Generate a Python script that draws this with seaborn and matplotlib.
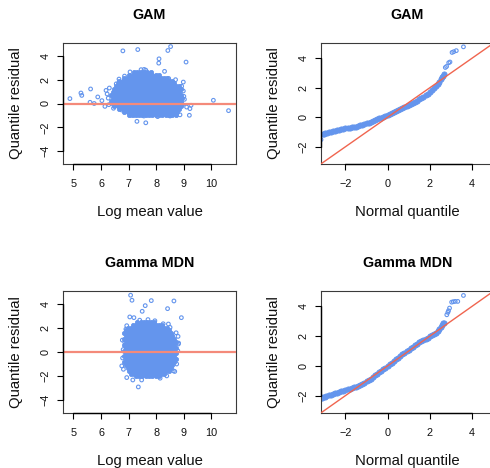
import matplotlib
matplotlib.use("Agg")
import matplotlib.pyplot as plt
import seaborn as sns
import pandas as pd

# ---------------------------------------------------------------------------
# Residual diagnostics: GAM vs Gamma MDN
# ---------------------------------------------------------------------------

panel_titles = ["GAM", "GAM", "Gamma MDN", "Gamma MDN"]
scatter_xlabel = "Log mean value"
qq_xlabel = "Normal quantile"
ylabel = "Quantile residual"

scatter_xticks = [5, 6, 7, 8, 9, 10]
scatter_yticks = [-4, -2, 0, 2, 4]
qq_xticks = [-2, 0, 2, 4]
qq_yticks = [-2, 0, 2, 4]

# GAM: residual vs log mean, dense core given row by row (residual, log means)
gam_core_rows = [
    (2.62, [7.20, 7.32, 7.44, 7.56, 7.68, 7.80]),
    (2.40, [7.02, 7.14, 7.26, 7.38, 7.50, 7.62, 7.74, 7.86, 7.98, 8.10]),
    (2.16, [6.84, 6.96, 7.08, 7.20, 7.32, 7.44, 7.56, 7.68, 7.80, 7.92, 8.04, 8.16, 8.28, 8.40]),
    (1.92, [6.66, 6.78, 6.90, 7.02, 7.14, 7.26, 7.38, 7.50, 7.62, 7.74, 7.86, 7.98, 8.10, 8.22,
            8.34, 8.46, 8.58]),
    (1.68, [6.60, 6.72, 6.84, 6.96, 7.08, 7.20, 7.32, 7.44, 7.56, 7.68, 7.80, 7.92, 8.04, 8.16,
            8.28, 8.40, 8.52, 8.64]),
    (1.44, [6.54, 6.66, 6.78, 6.90, 7.02, 7.14, 7.26, 7.38, 7.50, 7.62, 7.74, 7.86, 7.98, 8.10,
            8.22, 8.34, 8.46, 8.58, 8.70, 8.82]),
    (1.20, [6.48, 6.60, 6.72, 6.84, 6.96, 7.08, 7.20, 7.32, 7.44, 7.56, 7.68, 7.80, 7.92, 8.04,
            8.16, 8.28, 8.40, 8.52, 8.64, 8.76, 8.88]),
    (0.96, [6.42, 6.54, 6.66, 6.78, 6.90, 7.02, 7.14, 7.26, 7.38, 7.50, 7.62, 7.74, 7.86, 7.98,
            8.10, 8.22, 8.34, 8.46, 8.58, 8.70, 8.82]),
    (0.72, [6.36, 6.48, 6.60, 6.72, 6.84, 6.96, 7.08, 7.20, 7.32, 7.44, 7.56, 7.68, 7.80, 7.92,
            8.04, 8.16, 8.28, 8.40, 8.52, 8.64, 8.76, 8.88]),
    (0.48, [6.42, 6.54, 6.66, 6.78, 6.90, 7.02, 7.14, 7.26, 7.38, 7.50, 7.62, 7.74, 7.86, 7.98,
            8.10, 8.22, 8.34, 8.46, 8.58, 8.70, 8.82, 8.94]),
    (0.24, [6.36, 6.48, 6.60, 6.72, 6.84, 6.96, 7.08, 7.20, 7.32, 7.44, 7.56, 7.68, 7.80, 7.92,
            8.04, 8.16, 8.28, 8.40, 8.52, 8.64, 8.76, 8.88]),
    (0.00, [6.42, 6.54, 6.66, 6.78, 6.90, 7.02, 7.14, 7.26, 7.38, 7.50, 7.62, 7.74, 7.86, 7.98,
            8.10, 8.22, 8.34, 8.46, 8.58, 8.70, 8.82, 8.94]),
    (-0.24, [6.48, 6.60, 6.72, 6.84, 6.96, 7.08, 7.20, 7.32, 7.44, 7.56, 7.68, 7.80, 7.92, 8.04,
             8.16, 8.28, 8.40, 8.52, 8.64, 8.76, 8.88]),
    (-0.48, [6.66, 6.78, 6.90, 7.02, 7.14, 7.26, 7.38, 7.50, 7.62, 7.74, 7.86, 7.98, 8.10, 8.22,
             8.34, 8.46, 8.58, 8.70, 8.82]),
    (-0.72, [6.84, 6.96, 7.08, 7.20, 7.32, 7.44, 7.56, 7.68, 7.80, 7.92, 8.04, 8.16, 8.28, 8.40,
             8.52, 8.64, 8.76]),
    (-0.94, [7.02, 7.14, 7.26, 7.38, 7.50, 7.62, 7.74, 7.86, 7.98, 8.10, 8.22, 8.34, 8.46, 8.58,
             8.70]),
]
gam_edge_logmean = [4.87, 5.27, 5.30, 5.62, 5.60, 5.75, 5.88, 6.03, 6.18, 6.14, 6.26, 6.22,
                    6.30, 6.28, 6.79, 7.33, 8.52, 8.42, 8.10, 8.09, 9.08, 10.07, 10.62, 9.20,
                    9.22, 9.26, 9.00, 8.98, 7.30, 7.62, 8.30, 7.05, 6.85, 7.45, 7.56, 7.62,
                    8.45, 8.70, 8.92, 8.98, 9.02, 9.10, 8.86, 8.50, 8.05, 7.55, 7.10, 6.75,
                    6.55, 6.45, 6.65]
gam_edge_resid = [0.41, 0.88, 0.68, 1.22, 0.10, 0.00, 0.55, 0.24, 1.10, -0.24, 0.45, 0.80,
                  1.30, -0.10, 4.42, 4.53, 4.78, 4.45, 3.75, 3.39, 3.48, 0.27, -0.60, -0.99,
                  -0.43, -0.15, 0.60, 1.80, -1.50, -1.62, 2.70, 2.65, 2.30, 2.84, 2.86, 2.80,
                  2.10, 2.00, 1.45, 1.05, 0.35, -0.30, -0.95, -1.05, -1.10, -1.05, -1.00, -0.55,
                  1.65, -0.40, 2.05]

# Gamma MDN: residual vs log mean
mdn_core_rows = [
    (2.52, [7.32, 7.44, 7.56, 7.68, 7.80, 7.92]),
    (2.28, [7.14, 7.26, 7.38, 7.50, 7.62, 7.74, 7.86, 7.98, 8.10, 8.22]),
    (2.04, [6.96, 7.08, 7.20, 7.32, 7.44, 7.56, 7.68, 7.80, 7.92, 8.04, 8.16, 8.28, 8.40]),
    (1.80, [6.90, 7.02, 7.14, 7.26, 7.38, 7.50, 7.62, 7.74, 7.86, 7.98, 8.10, 8.22, 8.34, 8.46]),
    (1.56, [6.84, 6.96, 7.08, 7.20, 7.32, 7.44, 7.56, 7.68, 7.80, 7.92, 8.04, 8.16, 8.28, 8.40,
            8.52]),
    (1.32, [6.90, 7.02, 7.14, 7.26, 7.38, 7.50, 7.62, 7.74, 7.86, 7.98, 8.10, 8.22, 8.34, 8.46,
            8.58]),
    (1.08, [6.84, 6.96, 7.08, 7.20, 7.32, 7.44, 7.56, 7.68, 7.80, 7.92, 8.04, 8.16, 8.28, 8.40,
            8.52, 8.64]),
    (0.84, [6.90, 7.02, 7.14, 7.26, 7.38, 7.50, 7.62, 7.74, 7.86, 7.98, 8.10, 8.22, 8.34, 8.46,
            8.58, 8.70]),
    (0.60, [6.84, 6.96, 7.08, 7.20, 7.32, 7.44, 7.56, 7.68, 7.80, 7.92, 8.04, 8.16, 8.28, 8.40,
            8.52, 8.64]),
    (0.36, [6.90, 7.02, 7.14, 7.26, 7.38, 7.50, 7.62, 7.74, 7.86, 7.98, 8.10, 8.22, 8.34, 8.46,
            8.58, 8.70]),
    (0.12, [6.84, 6.96, 7.08, 7.20, 7.32, 7.44, 7.56, 7.68, 7.80, 7.92, 8.04, 8.16, 8.28, 8.40,
            8.52, 8.64]),
    (-0.12, [6.90, 7.02, 7.14, 7.26, 7.38, 7.50, 7.62, 7.74, 7.86, 7.98, 8.10, 8.22, 8.34, 8.46,
             8.58, 8.70]),
    (-0.36, [6.84, 6.96, 7.08, 7.20, 7.32, 7.44, 7.56, 7.68, 7.80, 7.92, 8.04, 8.16, 8.28, 8.40,
             8.52, 8.64]),
    (-0.60, [6.90, 7.02, 7.14, 7.26, 7.38, 7.50, 7.62, 7.74, 7.86, 7.98, 8.10, 8.22, 8.34, 8.46,
             8.58, 8.70]),
    (-0.84, [6.84, 6.96, 7.08, 7.20, 7.32, 7.44, 7.56, 7.68, 7.80, 7.92, 8.04, 8.16, 8.28, 8.40,
             8.52, 8.64]),
    (-1.08, [6.90, 7.02, 7.14, 7.26, 7.38, 7.50, 7.62, 7.74, 7.86, 7.98, 8.10, 8.22, 8.34, 8.46,
             8.58]),
    (-1.32, [6.96, 7.08, 7.20, 7.32, 7.44, 7.56, 7.68, 7.80, 7.92, 8.04, 8.16, 8.28, 8.40, 8.52]),
    (-1.56, [7.02, 7.14, 7.26, 7.38, 7.50, 7.62, 7.74, 7.86, 7.98, 8.10, 8.22, 8.34, 8.46]),
    (-1.80, [7.08, 7.20, 7.32, 7.44, 7.56, 7.68, 7.80, 7.92, 8.04, 8.16, 8.28]),
    (-2.02, [7.26, 7.38, 7.50, 7.62, 7.74, 7.86, 7.98, 8.10]),
]
mdn_edge_logmean = [7.07, 7.12, 7.82, 8.64, 7.60, 7.49, 8.41, 8.91, 7.04, 7.19, 7.35, 8.79,
                    8.81, 8.67, 6.77, 6.86, 6.93, 6.90, 6.75, 6.81, 6.93, 8.44, 8.58, 8.80,
                    8.78, 8.68, 8.74, 8.62, 8.38, 8.14, 7.15, 7.47, 7.70, 7.95, 8.25, 7.40,
                    6.80, 6.78, 8.50, 8.72]
mdn_edge_resid = [4.73, 4.31, 4.28, 4.25, 3.86, 3.39, 3.61, 2.86, 2.92, 2.86, -2.91, 1.30,
                  0.74, -1.62, 0.99, 0.80, 2.19, 1.90, -1.16, -1.44, -2.13, 2.33, 1.35, 0.66,
                  0.10, -0.60, -1.00, -1.57, -1.99, -2.18, -2.33, -2.33, 2.70, 2.60, 2.35, 2.65,
                  0.20, -0.50, 2.05, 1.60]

# Normal QQ: theoretical quantile vs sorted residual
gam_qq_theo = [-3.16, -3.12, -3.08, -3.02, -2.95, -2.88, -2.80, -2.70, -2.60, -2.50, -2.40,
               -2.30, -2.20, -2.10, -2.00, -1.90, -1.80, -1.70, -1.60, -1.50, -1.40, -1.30,
               -1.20, -1.10, -1.00, -0.90, -0.80, -0.70, -0.60, -0.50, -0.40, -0.30, -0.20,
               -0.10, 0.00, 0.10, 0.20, 0.30, 0.40, 0.50, 0.60, 0.70, 0.80, 0.90, 1.00, 1.10,
               1.20, 1.30, 1.40, 1.50, 1.60, 1.70, 1.80, 1.90, 2.00, 2.10, 2.20, 2.30, 2.38,
               2.45, 2.52, 2.58, 2.63, 2.68, 2.74, 2.80, 2.90, 2.96, 3.06, 3.14, 3.26, 3.60]
gam_qq_resid = [-1.52, -1.20, -1.16, -1.12, -1.08, -1.04, -1.01, -0.99, -0.95, -0.91, -0.88,
                -0.85, -0.82, -0.79, -0.76, -0.74, -0.72, -0.69, -0.66, -0.63, -0.59, -0.55,
                -0.51, -0.47, -0.42, -0.37, -0.32, -0.26, -0.20, -0.14, -0.08, -0.02, 0.04,
                0.10, 0.16, 0.22, 0.29, 0.35, 0.42, 0.48, 0.55, 0.61, 0.68, 0.75, 0.82, 0.89,
                0.96, 1.04, 1.12, 1.21, 1.30, 1.40, 1.50, 1.61, 1.72, 1.84, 1.96, 2.10, 2.24,
                2.40, 2.57, 2.71, 2.83, 2.92, 3.38, 3.45, 3.70, 3.75, 4.40, 4.45, 4.52, 4.78]

mdn_qq_theo = [-3.17, -3.12, -3.05, -2.98, -2.90, -2.80, -2.70, -2.60, -2.50, -2.40, -2.30,
               -2.20, -2.10, -2.00, -1.90, -1.80, -1.70, -1.60, -1.50, -1.40, -1.30, -1.20,
               -1.10, -1.00, -0.90, -0.80, -0.70, -0.60, -0.50, -0.40, -0.30, -0.20, -0.10,
               0.00, 0.10, 0.20, 0.30, 0.40, 0.50, 0.60, 0.70, 0.80, 0.90, 1.00, 1.10, 1.20,
               1.30, 1.40, 1.50, 1.60, 1.70, 1.80, 1.90, 2.00, 2.10, 2.20, 2.30, 2.38, 2.45,
               2.52, 2.58, 2.63, 2.68, 2.81, 2.86, 2.89, 2.94, 3.04, 3.12, 3.21, 3.33, 3.60]
mdn_qq_resid = [-2.26, -2.18, -2.12, -2.08, -2.03, -1.98, -1.93, -1.89, -1.85, -1.80, -1.76,
                -1.71, -1.66, -1.62, -1.57, -1.53, -1.49, -1.45, -1.41, -1.37, -1.31, -1.23,
                -1.13, -1.04, -0.95, -0.85, -0.75, -0.64, -0.53, -0.42, -0.32, -0.22, -0.11,
                0.00, 0.11, 0.22, 0.33, 0.44, 0.56, 0.68, 0.79, 0.89, 0.99, 1.09, 1.19, 1.29,
                1.39, 1.49, 1.58, 1.67, 1.76, 1.84, 1.91, 1.98, 2.05, 2.13, 2.24, 2.36, 2.50,
                2.64, 2.76, 2.86, 2.92, 3.44, 3.60, 3.71, 3.89, 4.29, 4.32, 4.34, 4.34, 4.74]

# the heavily overplotted stretch of each QQ curve (points overlap into a solid band)
gam_qq_band = (-3.10, 2.70)
mdn_qq_band = (-3.15, 2.70)

POINT_BLUE = "#6495ED"
HLINE_RED = "#F48A7A"
QQ_RED = "#F0654F"


def cloud_frame(rows, edge_x, edge_y):
    xs, ys, dense = [], [], []
    for resid, logmeans in rows:
        xs.extend(logmeans)
        ys.extend([resid] * len(logmeans))
        dense.extend([True] * len(logmeans))
    xs.extend(edge_x)
    ys.extend(edge_y)
    dense.extend([False] * len(edge_x))
    return pd.DataFrame({"x": xs, "y": ys, "dense": dense})


def qq_frame(theo, resid, band):
    df = pd.DataFrame({"x": theo, "y": resid})
    df["dense"] = (df["x"] >= band[0]) & (df["x"] <= band[1])
    return df


sns.set_theme(style="white")
plt.rcParams["font.family"] = ["Liberation Sans", "DejaVu Sans"]

fig = plt.figure(figsize=(4.9, 4.68), dpi=100)
W, H = 490.0, 468.0


def px_axes(left, top, width, height):
    return fig.add_axes([left / W, 1 - (top + height) / H, width / W, height / H])


ax_tl = px_axes(63, 43, 173, 121)
ax_tr = px_axes(321, 43, 173, 121)
ax_bl = px_axes(63, 291, 173, 122)
ax_br = px_axes(321, 291, 173, 122)

ring_kw = dict(marker="o", s=7, facecolor="none", edgecolor=POINT_BLUE,
               linewidth=0.8, legend=False)


def draw_points(ax, df, solid_size):
    sns.scatterplot(data=df[df["dense"]], x="x", y="y", ax=ax, marker="o", s=solid_size,
                    color=POINT_BLUE, edgecolor=POINT_BLUE, linewidth=0.6, legend=False)
    sns.scatterplot(data=df[~df["dense"]], x="x", y="y", ax=ax, **ring_kw)


gam_df = cloud_frame(gam_core_rows, gam_edge_logmean, gam_edge_resid)
mdn_df = cloud_frame(mdn_core_rows, mdn_edge_logmean, mdn_edge_resid)
gam_qq = qq_frame(gam_qq_theo, gam_qq_resid, gam_qq_band)
mdn_qq = qq_frame(mdn_qq_theo, mdn_qq_resid, mdn_qq_band)

for ax, df in [(ax_tl, gam_df), (ax_bl, mdn_df)]:
    draw_points(ax, df, 9)
    ax.axhline(0, color=HLINE_RED, lw=1.6, zorder=5)
    ax.set_xlim(4.62, 10.89)
    ax.set_ylim(-5.08, 5.08)
    ax.set_xticks(scatter_xticks)
    ax.set_yticks(scatter_yticks)
    ax.set_xlabel(scatter_xlabel)

for ax, df in [(ax_tr, gam_qq), (ax_br, mdn_qq)]:
    draw_points(ax, df, 14)
    ax.axline((0, 0), slope=1, color=QQ_RED, lw=1.0, zorder=5)
    ax.set_xlim(-3.16, 5.05)
    ax.set_ylim(-3.17, 5.04)
    ax.set_xticks(qq_xticks)
    ax.set_yticks(qq_yticks)
    ax.set_xlabel(qq_xlabel)

for ax, title in zip([ax_tl, ax_tr, ax_bl, ax_br], panel_titles):
    height_px = ax.get_position().height * H
    ax.set_title(title, fontsize=10.3, fontweight="bold", y=1 + 28 / height_px,
                 va="center", pad=0, color="black")
    ax.set_ylabel(ylabel, fontsize=10.7, color="#111111")
    ax.xaxis.label.set_fontsize(10.7)
    ax.xaxis.label.set_color("#111111")
    ax.xaxis.set_label_coords(0.5, -48 / height_px)
    ax.xaxis.label.set_va("center")
    ax.yaxis.set_label_coords(-47 / 173, 0.5)
    ax.yaxis.label.set_va("center")
    for sp in ax.spines.values():
        sp.set_color("#3a3a3a")
        sp.set_linewidth(0.8)
    ax.tick_params(axis="both", direction="out", length=4.3, width=0.8, color="black",
                   labelsize=7.8, labelcolor="#111111")
    ax.tick_params(axis="x", pad=6.6, bottom=True)
    ax.tick_params(axis="y", pad=4.6, left=True, labelrotation=90)
    for lab in ax.get_yticklabels():
        lab.set_va("center")
    # axis bars running from first to last tick
    xt, yt = ax.get_xticks(), ax.get_yticks()
    x0, _ = ax.get_xlim()
    y0, _ = ax.get_ylim()
    ax.plot([xt[0], xt[-1]], [y0, y0], color="black", lw=1.0, clip_on=False, zorder=6)
    ax.plot([x0, x0], [yt[0], yt[-1]], color="black", lw=1.0, clip_on=False, zorder=6)

fig.savefig("out.png", dpi=100, facecolor="white")
